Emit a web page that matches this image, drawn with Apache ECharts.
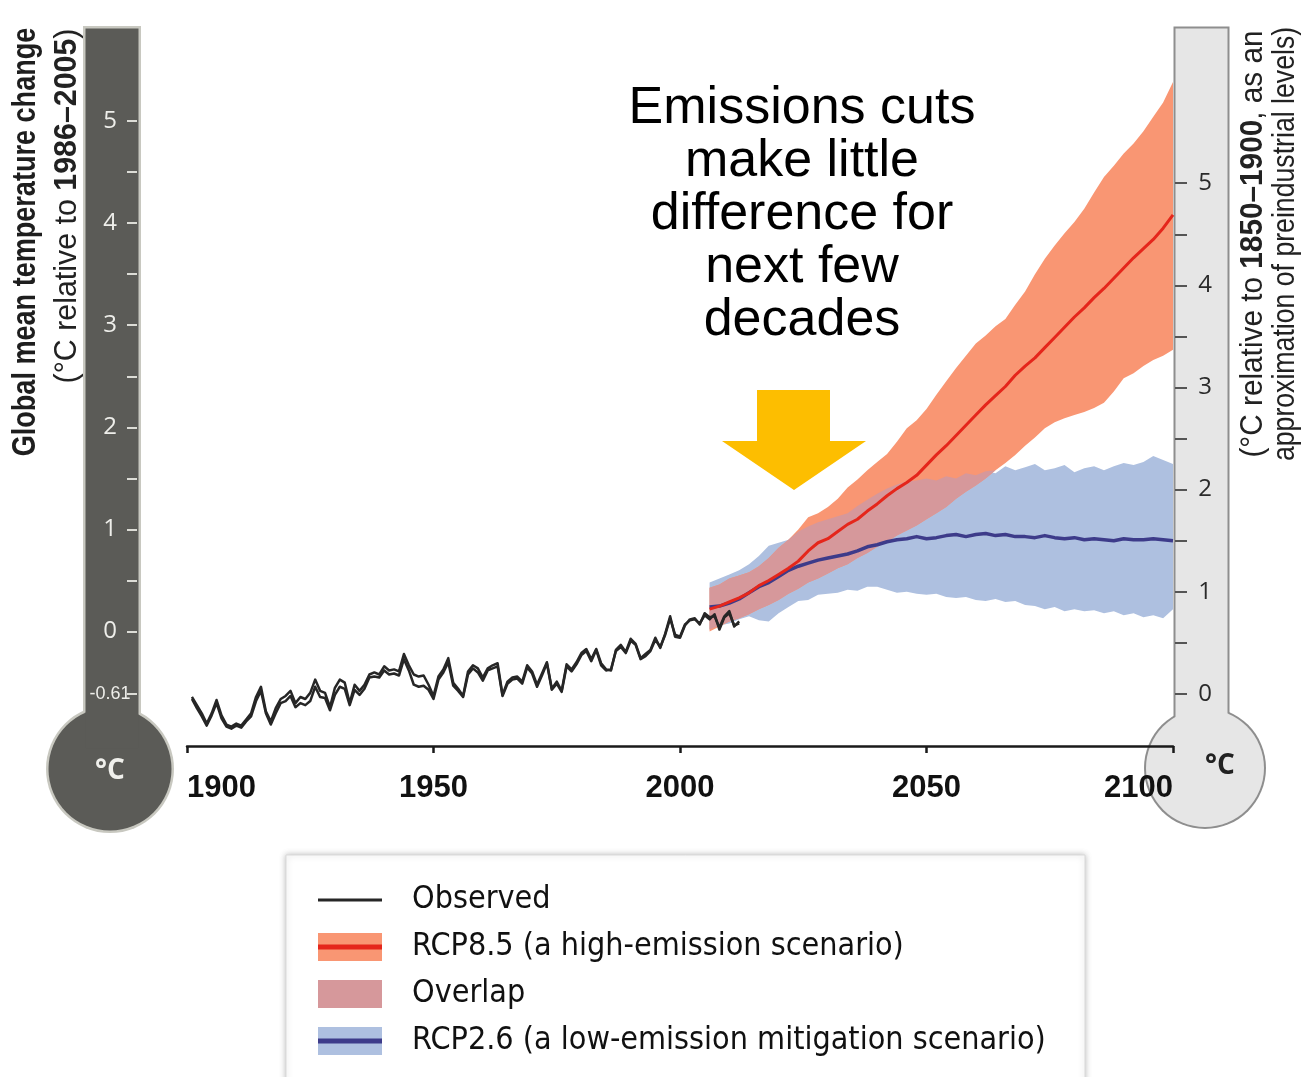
<!DOCTYPE html>
<html>
<head>
<meta charset="utf-8">
<title>Global mean temperature change</title>
<script src="https://cdn.jsdelivr.net/npm/echarts@6/dist/echarts.min.js"></script>
<style>
  html, body { margin: 0; padding: 0; background: #ffffff; }
  #chart { width: 1305px; height: 1077px; }
</style>
</head>
<body>
<div id="chart"></div>
<script>
// ---------- data ----------
// Observed annual anomalies (°C relative to 1986–2005), two records, 1901–2012
const obsStartYear = 1901;
const observedA = [
  -0.64, -0.72, -0.80, -0.90, -0.80, -0.67, -0.82, -0.91, -0.93, -0.90,
  -0.92, -0.86, -0.80, -0.64, -0.54, -0.78, -0.88, -0.75, -0.66, -0.63,
  -0.58, -0.70, -0.64, -0.66, -0.60, -0.47, -0.58, -0.60, -0.74, -0.55,
  -0.47, -0.50, -0.70, -0.52, -0.58, -0.52, -0.42, -0.40, -0.42, -0.34,
  -0.38, -0.37, -0.39, -0.22, -0.33, -0.42, -0.44, -0.43, -0.52, -0.63,
  -0.44, -0.37, -0.26, -0.50, -0.56, -0.63, -0.39, -0.33, -0.36, -0.45,
  -0.36, -0.33, -0.31, -0.62, -0.49, -0.45, -0.44, -0.49, -0.33, -0.39,
  -0.52, -0.41, -0.30, -0.56, -0.49, -0.58, -0.32, -0.37, -0.30, -0.21,
  -0.17, -0.27, -0.17, -0.31, -0.37, -0.38, -0.18, -0.13, -0.20, -0.07,
  -0.12, -0.26, -0.22, -0.18, -0.06, -0.16, -0.02, 0.15, -0.05, -0.06,
  0.06, 0.12, 0.13, 0.07, 0.18, 0.14, 0.15, 0.04, 0.15, 0.20,
  0.05, 0.10
];
const observedB = [
  -0.66, -0.75, -0.83, -0.92, -0.82, -0.70, -0.85, -0.93, -0.95, -0.92,
  -0.94, -0.88, -0.83, -0.68, -0.58, -0.80, -0.91, -0.80, -0.70, -0.68,
  -0.63, -0.74, -0.70, -0.72, -0.68, -0.54, -0.64, -0.65, -0.77, -0.62,
  -0.54, -0.56, -0.72, -0.57, -0.62, -0.56, -0.45, -0.44, -0.45, -0.38,
  -0.42, -0.41, -0.43, -0.27, -0.38, -0.52, -0.54, -0.53, -0.57, -0.66,
  -0.47, -0.40, -0.30, -0.53, -0.58, -0.64, -0.42, -0.36, -0.40, -0.48,
  -0.38, -0.36, -0.34, -0.63, -0.51, -0.47, -0.46, -0.51, -0.35, -0.41,
  -0.54, -0.43, -0.31, -0.57, -0.51, -0.59, -0.34, -0.39, -0.32, -0.23,
  -0.19, -0.29, -0.18, -0.33, -0.38, -0.37, -0.19, -0.15, -0.21, -0.09,
  -0.13, -0.27, -0.24, -0.19, -0.08, -0.15, -0.03, 0.13, -0.03, -0.05,
  0.07, 0.11, 0.12, 0.08, 0.16, 0.12, 0.17, 0.02, 0.14, 0.18,
  0.06, 0.08
];

// Projections, every second year 2006–2100 (°C relative to 1986–2005)
const projStartYear = 2006;
const projStep = 2;
const rcp85Mean = [
  0.22, 0.25, 0.29, 0.33, 0.38, 0.45, 0.50, 0.56, 0.62, 0.69,
  0.79, 0.87, 0.91, 0.98, 1.05, 1.10, 1.18, 1.25, 1.33, 1.40,
  1.46, 1.53, 1.63, 1.73, 1.82, 1.92, 2.02, 2.12, 2.22, 2.31,
  2.40, 2.51, 2.60, 2.68, 2.78, 2.88, 2.98, 3.08, 3.17, 3.27,
  3.36, 3.46, 3.56, 3.66, 3.75, 3.84, 3.95, 4.08
];
const rcp85High = [
  0.43, 0.46, 0.52, 0.55, 0.58, 0.64, 0.72, 0.82, 0.90, 1.00,
  1.12, 1.16, 1.22, 1.30, 1.41, 1.49, 1.58, 1.66, 1.74, 1.86,
  1.99, 2.07, 2.18, 2.32, 2.45, 2.58, 2.70, 2.82, 2.90, 2.99,
  3.06, 3.20, 3.33, 3.50, 3.65, 3.78, 3.90, 4.01, 4.14, 4.30,
  4.45, 4.56, 4.68, 4.78, 4.90, 5.04, 5.18, 5.38
];
const rcp85Low = [
  0.00, 0.05, 0.10, 0.13, 0.17, 0.22, 0.26, 0.31, 0.37, 0.42,
  0.48, 0.52, 0.57, 0.62, 0.66, 0.72, 0.77, 0.83, 0.88, 0.94,
  0.99, 1.04, 1.10, 1.16, 1.22, 1.30, 1.37, 1.43, 1.50, 1.58,
  1.65, 1.73, 1.82, 1.90, 1.99, 2.05, 2.09, 2.12, 2.15, 2.19,
  2.24, 2.35, 2.48, 2.53, 2.60, 2.66, 2.70, 2.76
];
const rcp26Mean = [
  0.24, 0.25, 0.28, 0.32, 0.38, 0.44, 0.48, 0.54, 0.60, 0.64,
  0.67, 0.70, 0.72, 0.74, 0.76, 0.79, 0.83, 0.85, 0.88, 0.90,
  0.91, 0.93, 0.91, 0.92, 0.94, 0.95, 0.93, 0.95, 0.96, 0.94,
  0.95, 0.93, 0.93, 0.92, 0.94, 0.92, 0.91, 0.92, 0.90, 0.91,
  0.90, 0.89, 0.91, 0.90, 0.90, 0.91, 0.90, 0.89
];
const rcp26High = [
  0.48, 0.52, 0.56, 0.60, 0.66, 0.74, 0.84, 0.87, 0.90, 0.98,
  1.03, 1.07, 1.10, 1.13, 1.16, 1.23, 1.29, 1.35, 1.40, 1.44,
  1.47, 1.48, 1.50, 1.48, 1.52, 1.50, 1.55, 1.53, 1.57, 1.55,
  1.62, 1.58, 1.61, 1.64, 1.58, 1.60, 1.63, 1.56, 1.60, 1.62,
  1.58, 1.62, 1.65, 1.63, 1.66, 1.72, 1.68, 1.64
];
const rcp26Low = [
  0.02, 0.06, 0.08, 0.12, 0.15, 0.11, 0.10, 0.18, 0.24, 0.30,
  0.31, 0.36, 0.37, 0.38, 0.41, 0.40, 0.44, 0.44, 0.41, 0.38,
  0.39, 0.37, 0.36, 0.37, 0.34, 0.33, 0.34, 0.31, 0.30, 0.32,
  0.29, 0.30, 0.26, 0.25, 0.22, 0.24, 0.20, 0.22, 0.20, 0.21,
  0.18, 0.20, 0.16, 0.18, 0.14, 0.16, 0.13, 0.22
];

// Axis ticks and labels
const leftLabels = [5, 4, 3, 2, 1, 0, -0.61];
const leftTicks = [5, 4.5, 4, 3.5, 3, 2.5, 2, 1.5, 1, 0.5, 0, -0.61];
const rightLabels = [5, 4, 3, 2, 1, 0];
const rightTicks = [5, 4.5, 4, 3.5, 3, 2.5, 2, 1.5, 1, 0.5, 0];
const baselineShift = 0.61; // 1986–2005 relative to 1850–1900

const annotationLines = ['Emissions cuts', 'make little', 'difference for', 'next few', 'decades'];
const legendNames = {
  obs: 'Observed',
  high: 'RCP8.5 (a high-emission scenario)',
  overlap: 'Overlap',
  low: 'RCP2.6 (a low-emission mitigation scenario)'
};

// ---------- styling ----------
const SANS = '"Liberation Sans", Arial, sans-serif';
const CONDENSED = '"DejaVu Sans Condensed", "Liberation Sans", sans-serif';
const HUMANIST = '"Open Sans", "Noto Sans", sans-serif';
const C = {
  obs: '#262626',
  highBand: '#f99673',
  highLine: '#e5261b',
  lowBand: '#aec0e0',
  lowLine: '#3d3b8a',
  overlap: '#d6989b',
  arrow: '#fdbe00',
  thermoDark: '#5b5b57',
  thermoDarkEdge: '#c8c8c0',
  thermoLight: '#e6e6e6',
  thermoLightEdge: '#8e8e8e'
};

// ---------- derived series data ----------
const obsPairs = (arr) => arr.map((v, i) => [obsStartYear + i, v]);
const projYears = rcp85Mean.map((_, i) => projStartYear + i * projStep);
const pairs = (arr) => arr.map((v, i) => [projYears[i], v]);
const overlapLow = projYears.map((_, i) => Math.max(rcp85Low[i], rcp26Low[i]));
const overlapHigh = projYears.map((_, i) => Math.max(Math.min(rcp85High[i], rcp26High[i]), overlapLow[i]));

// Filled band between two value arrays, drawn as one polygon through the axis scales
function bandSeries(name, lo, hi, color, z) {
  return {
    type: 'custom',
    name: name,
    z: z,
    silent: true,
    coordinateSystem: 'cartesian2d',
    data: projYears.map((y, i) => [y, lo[i], hi[i]]),
    encode: { x: 0, y: [1, 2] },
    renderItem: function (params, api) {
      if (params.dataIndex !== 0) return null;
      const top = [], bottom = [];
      for (let i = 0; i < projYears.length; i++) {
        top.push(api.coord([projYears[i], hi[i]]));
        bottom.push(api.coord([projYears[i], lo[i]]));
      }
      return {
        type: 'polygon',
        shape: { points: top.concat(bottom.reverse()) },
        style: { fill: color, stroke: null }
      };
    }
  };
}

function lineSeries(name, data, color, width, z) {
  return {
    type: 'line', name: name, data: data, z: z,
    symbol: 'none', silent: true,
    lineStyle: { color: color, width: width, join: 'round' },
    itemStyle: { color: color }
  };
}

function legendIcon(band, line, lineWidth) {
  let s = '<svg xmlns="http://www.w3.org/2000/svg" width="64" height="28">';
  if (band) s += '<rect x="0" y="0" width="64" height="28" fill="' + band + '"/>';
  if (line) s += '<rect x="0" y="' + (14 - lineWidth / 2) + '" width="64" height="' + lineWidth + '" fill="' + line + '"/>';
  s += '</svg>';
  return 'image://data:image/svg+xml;charset=utf-8,' + encodeURIComponent(s);
}

// ---------- chart ----------
const chart = echarts.init(document.getElementById('chart'), null, { renderer: 'canvas' });

const option = {
  animation: false,
  backgroundColor: '#ffffff',
  grid: { left: 187, right: 132, top: 29, bottom: 331, containLabel: false },
  xAxis: {
    type: 'value', min: 1900, max: 2100, interval: 50,
    axisLine: { show: true, onZero: false, lineStyle: { color: '#1a1a1a', width: 2.5 } },
    axisTick: { show: true, inside: false, length: 7, lineStyle: { color: '#1a1a1a', width: 2.5 } },
    axisLabel: {
      margin: 27, color: '#111', fontFamily: SANS, fontWeight: 'bold', fontSize: 31,
      alignMinLabel: 'left', alignMaxLabel: 'right',
      formatter: (v) => String(v)
    },
    splitLine: { show: false }
  },
  yAxis: [
    {
      type: 'value', position: 'left', offset: 50, min: -1.12, max: 5.9,
      axisLine: { show: false },
      axisTick: { show: true, inside: false, length: 10, customValues: leftTicks,
                  lineStyle: { color: '#dcdcd6', width: 2 } },
      axisLabel: {
        customValues: leftLabels, margin: 27, align: 'center', color: '#eeeeea',
        fontFamily: HUMANIST, fontSize: 24,
        formatter: (v) => (v === -0.61 ? '{s|-0.61}' : String(v)),
        rich: { s: { fontFamily: SANS, fontSize: 18, color: '#eeeeea' } }
      },
      splitLine: { show: false }
    },
    {
      type: 'value', position: 'right', offset: 2,
      min: -1.12 + baselineShift, max: 5.9 + baselineShift,
      axisLine: { show: false },
      axisTick: { show: true, inside: false, length: 12, customValues: rightTicks,
                  lineStyle: { color: '#555', width: 2 } },
      axisLabel: {
        customValues: rightLabels, margin: 30, align: 'center', color: '#2a2a2a',
        fontFamily: HUMANIST, fontSize: 24,
        formatter: (v) => String(v)
      },
      splitLine: { show: false }
    }
  ],
  legend: {
    orient: 'vertical', left: 318, top: 884, height: 300, padding: 0,
    itemWidth: 64, itemHeight: 28, itemGap: 15,
    selectedMode: false,
    textStyle: { fontFamily: CONDENSED, fontSize: 32, color: '#111', lineHeight: 28, padding: [0, 0, 0, 25] },
    data: [
      { name: legendNames.obs, icon: legendIcon(null, C.obs, 3) },
      { name: legendNames.high, icon: legendIcon(C.highBand, C.highLine, 5) },
      { name: legendNames.overlap, icon: legendIcon(C.overlap, null, 0) },
      { name: legendNames.low, icon: legendIcon(C.lowBand, C.lowLine, 5) }
    ]
  },
  series: [
    bandSeries(legendNames.low, rcp26Low, rcp26High, C.lowBand, 1),
    bandSeries(legendNames.high, rcp85Low, rcp85High, C.highBand, 2),
    bandSeries(legendNames.overlap, overlapLow, overlapHigh, C.overlap, 3),
    lineSeries(legendNames.obs, obsPairs(observedB), C.obs, 2.5, 4),
    lineSeries(legendNames.obs, obsPairs(observedA), C.obs, 2.5, 4),
    lineSeries(legendNames.low, pairs(rcp26Mean), C.lowLine, 3.5, 5),
    lineSeries(legendNames.high, pairs(rcp85Mean), C.highLine, 3, 6)
  ],
  graphic: [
    // left thermometer (1986–2005 baseline)
    { type: 'circle', z: -2, shape: { cx: 110, cy: 769, r: 64 }, style: { fill: C.thermoDarkEdge } },
    { type: 'rect', z: -2, shape: { x: 83, y: 26, width: 58, height: 720 }, style: { fill: C.thermoDarkEdge } },
    { type: 'circle', z: -1, shape: { cx: 110, cy: 769, r: 61.5 }, style: { fill: C.thermoDark } },
    { type: 'rect', z: -1, shape: { x: 85.5, y: 28.5, width: 53, height: 720 }, style: { fill: C.thermoDark } },
    { type: 'text', z: 1, x: 110, y: 771,
      style: { text: '°C', fontFamily: HUMANIST, fontSize: 28, fontWeight: 'bold', fill: '#f0f0ec', align: 'center', verticalAlign: 'middle' } },
    // right thermometer (1850–1900 baseline)
    { type: 'circle', z: -2, shape: { cx: 1205, cy: 768, r: 61 }, style: { fill: C.thermoLightEdge } },
    { type: 'rect', z: -2, shape: { x: 1173.5, y: 26.5, width: 56, height: 720 }, style: { fill: C.thermoLightEdge } },
    { type: 'circle', z: -1, shape: { cx: 1205, cy: 768, r: 59 }, style: { fill: C.thermoLight } },
    { type: 'rect', z: -1, shape: { x: 1175.5, y: 28.5, width: 52, height: 720 }, style: { fill: C.thermoLight } },
    { type: 'text', z: 1, x: 1220, y: 766,
      style: { text: '°C', fontFamily: HUMANIST, fontSize: 28, fontWeight: 'bold', fill: '#222', align: 'center', verticalAlign: 'middle' } },
    // axis titles (narrowed along the reading direction)
    { type: 'text', z: 5, x: 26, y: 242, rotation: Math.PI / 2, scaleX: 0.82,
      style: { text: 'Global mean temperature change', fontFamily: SANS, fontWeight: 'bold', fontSize: 33,
               fill: '#1e1e1e', align: 'center', verticalAlign: 'middle' } },
    { type: 'text', z: 5, x: 67, y: 206, rotation: Math.PI / 2, scaleX: 0.98,
      style: { text: '{n|(°C relative to }{b|1986–2005}{n|)}', align: 'center', verticalAlign: 'middle',
               rich: { n: { fontFamily: SANS, fontSize: 31, fill: '#222' },
                       b: { fontFamily: SANS, fontSize: 31, fontWeight: 'bold', fill: '#222' } } } },
    { type: 'text', z: 5, x: 1253, y: 244, rotation: Math.PI / 2, scaleX: 0.96,
      style: { text: '{n|(°C relative to }{b|1850–1900}{n|, as an}', align: 'center', verticalAlign: 'middle',
               rich: { n: { fontFamily: SANS, fontSize: 31, fill: '#222' },
                       b: { fontFamily: SANS, fontSize: 31, fontWeight: 'bold', fill: '#222' } } } },
    { type: 'text', z: 5, x: 1285, y: 244, rotation: Math.PI / 2, scaleX: 0.86,
      style: { text: 'approximation of preindustrial levels)', fontFamily: SANS, fontSize: 31,
               fill: '#222', align: 'center', verticalAlign: 'middle' } },
    // annotation and arrow
    { type: 'text', z: 5, x: 802, y: 82,
      style: { text: annotationLines.join('\n'), fontFamily: SANS, fontSize: 52,
               lineHeight: 53, fill: '#000', align: 'center', verticalAlign: 'top' } },
    { type: 'polygon', z: 5,
      shape: { points: [[757, 390], [830, 390], [830, 441], [866, 441], [794, 490], [722, 441], [757, 441]] },
      style: { fill: C.arrow } },
    // legend frame
    { type: 'rect', z: 0, shape: { x: 286, y: 855, width: 799, height: 240 },
      style: { fill: '#ffffff', stroke: '#d9d9d9', lineWidth: 1, shadowBlur: 6, shadowColor: 'rgba(0,0,0,0.25)' } }
  ]
};

chart.setOption(option);
</script>
</body>
</html>
